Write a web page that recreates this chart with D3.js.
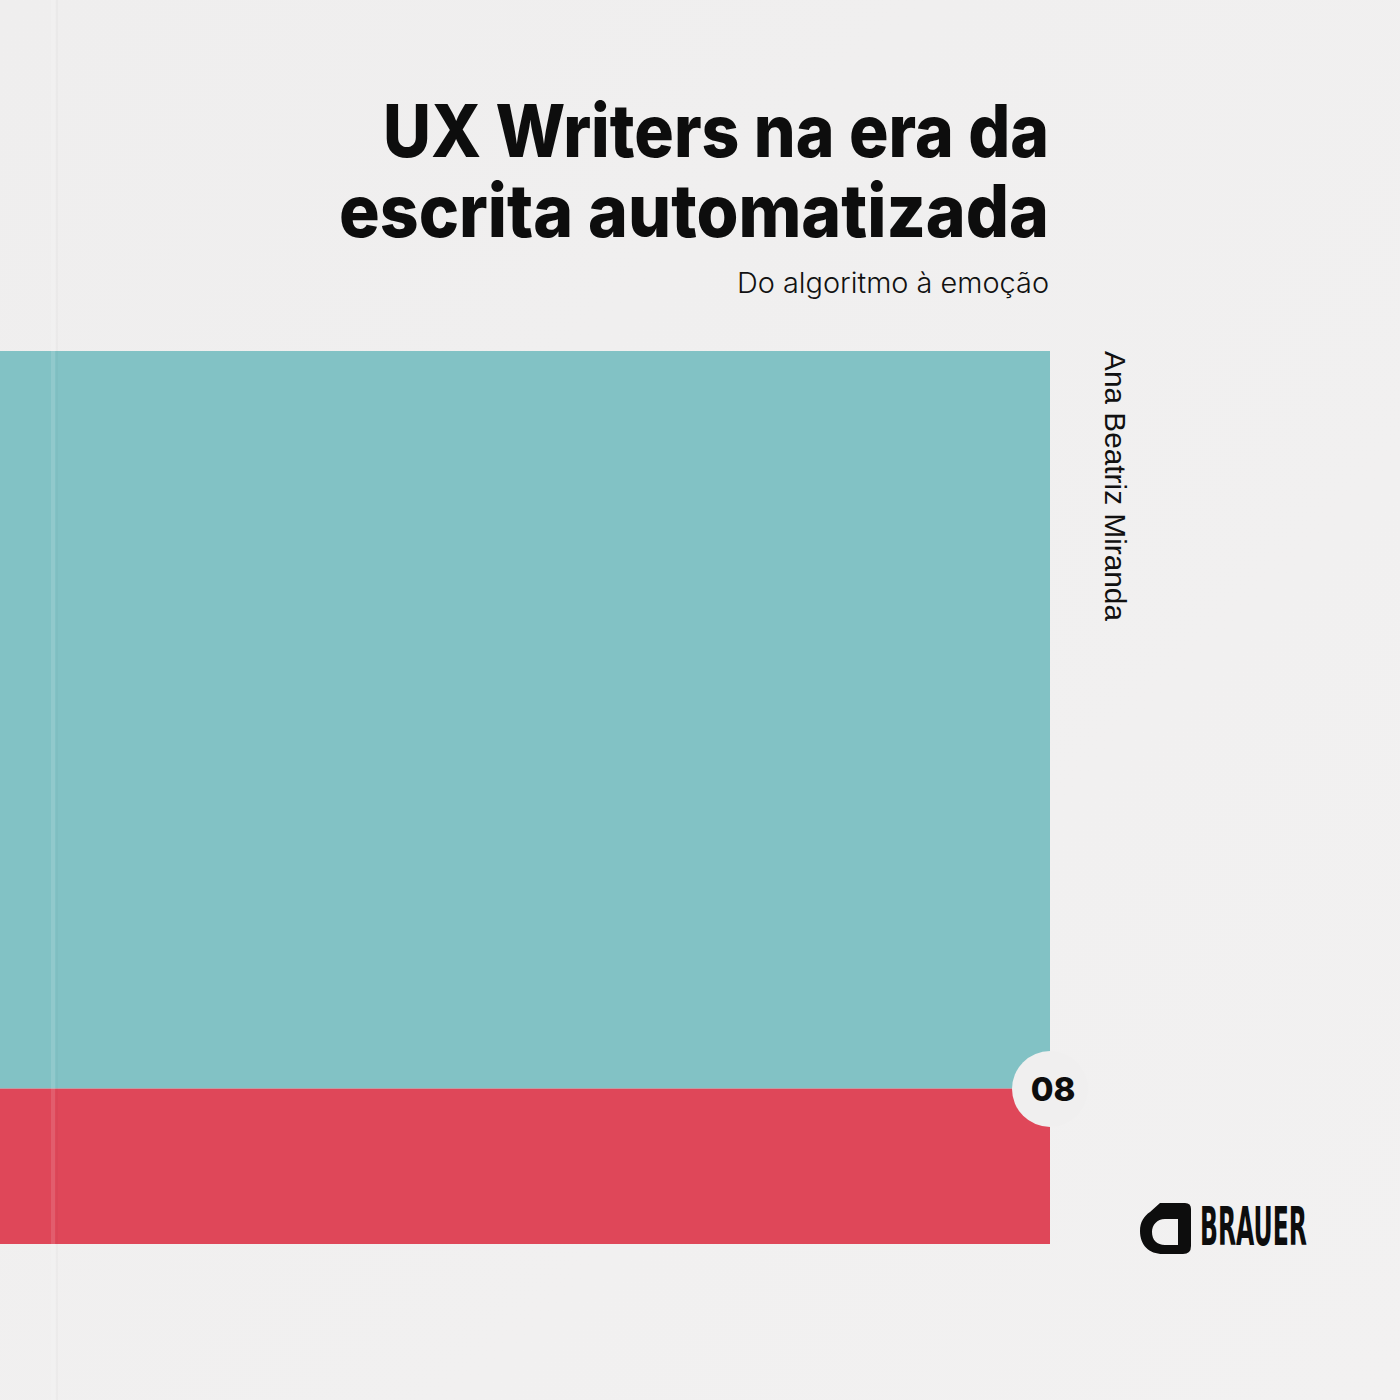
<!DOCTYPE html>
<html>
<head>
<meta charset="utf-8">
<script src="https://cdn.jsdelivr.net/npm/d3@7"></script>
<style>
  html, body { margin: 0; padding: 0; background: #f0efef; }
</style>
</head>
<body>
<div id="cover"></div>
<script>
// cover content
const titleLines = ["UX Writers na era da", "escrita automatizada"];
const subtitle = "Do algoritmo à emoção";
const author = "Ana Beatriz Miranda";
const volume = "08";
const publisher = "BRAUER";

// colour blocks, share of the coloured band (%)
const blocks = ["azul", "vermelho"];
const blockShares = [82.6, 17.4];
const blockColors = ["#82c2c5", "#df4759"];

const width = 1400, height = 1400;

const svg = d3.select("#cover")
    .append("svg")
    .attr("width", width)
    .attr("height", height);

const defs = svg.append("defs");
const bg = defs.append("linearGradient").attr("id", "bg")
    .attr("x1", 0).attr("y1", 0).attr("x2", 1).attr("y2", 1);
bg.append("stop").attr("offset", "0%").attr("stop-color", "#efeeee");
bg.append("stop").attr("offset", "100%").attr("stop-color", "#f2f1f1");

svg.append("rect")
    .attr("width", width).attr("height", height)
    .attr("fill", "url(#bg)");

// stacked band
const stack = [];
let acc = 0;
blocks.forEach((b, i) => {
    stack.push({name: b, y0: acc, y1: acc + blockShares[i], color: blockColors[i]});
    acc += blockShares[i];
});

const y = d3.scaleLinear()
    .domain([0, d3.sum(blockShares)])
    .range([351, 1244]);

const x = d3.scaleLinear()
    .domain([0, 1])
    .range([0, 1050]);

svg.append("g")
    .selectAll("rect")
    .data(stack)
    .join("rect")
    .attr("x", x(0))
    .attr("width", x(1) - x(0))
    .attr("y", d => y(d.y0))
    .attr("height", d => y(d.y1) - y(d.y0))
    .attr("fill", d => d.color);

// spine crease
svg.append("rect")
    .attr("x", 51).attr("y", 0)
    .attr("width", 4).attr("height", height)
    .attr("fill", "#ffffff").attr("opacity", 0.12);
svg.append("rect")
    .attr("x", 56).attr("y", 0)
    .attr("width", 2).attr("height", height)
    .attr("fill", "#000000").attr("opacity", 0.02);

// title
const title = svg.append("g")
    .attr("font-family", "Inter, 'Noto Sans', sans-serif")
    .attr("font-weight", 800)
    .attr("fill", "#0d0d0d")
    .attr("text-anchor", "end");

const titleWidths = [666, 710];
title.selectAll("text")
    .data(titleLines)
    .join("text")
    .attr("x", 1049)
    .attr("y", (d, i) => 157 + i * 80)
    .attr("font-size", 73)
    .attr("textLength", (d, i) => titleWidths[i])
    .attr("lengthAdjust", "spacingAndGlyphs")
    .text(d => d);

svg.append("text")
    .attr("x", 1049)
    .attr("y", 293)
    .attr("text-anchor", "end")
    .attr("font-family", "Inter, 'Noto Sans', sans-serif")
    .attr("font-weight", 300)
    .attr("font-size", 28)
    .attr("textLength", 312)
    .attr("lengthAdjust", "spacingAndGlyphs")
    .attr("fill", "#111")
    .text(subtitle);

// author, vertical
svg.append("text")
    .attr("transform", "translate(1105,351) rotate(90)")
    .attr("font-family", "'Liberation Sans', Arial, sans-serif")
    .attr("font-size", 30)
    .attr("textLength", 270)
    .attr("lengthAdjust", "spacingAndGlyphs")
    .attr("fill", "#111")
    .text(author);

// volume badge
svg.append("circle")
    .attr("cx", 1050).attr("cy", 1089)
    .attr("r", 38)
    .attr("fill", "#f0efef");

svg.append("text")
    .attr("x", 1053).attr("y", 1101)
    .attr("text-anchor", "middle")
    .attr("font-family", "Inter, sans-serif")
    .attr("font-weight", 800)
    .attr("font-size", 33)
    .attr("fill", "#0d0d0d")
    .text(volume);

// publisher logo
svg.append("path")
    .attr("fill", "#0d0d0d")
    .attr("fill-rule", "evenodd")
    .attr("d", "M1160,1203 L1185,1203 Q1191,1203 1191,1209 L1191,1246 Q1191,1254 1183,1254 " +
        "L1163,1254 C1149,1254 1140,1245 1140,1231 C1140,1222 1144,1216 1150,1212 Z " +
        "M1178,1219 L1165,1219 C1157,1219 1152,1225 1152,1232 C1152,1240 1157,1245 1165,1245 L1178,1245 Z");

const pub = svg.append("text")
    .attr("font-family", "'Liberation Sans Narrow', 'DejaVu Sans Condensed', sans-serif")
    .attr("font-weight", 700)
    .attr("font-size", 53)
    .attr("fill", "#0d0d0d")
    .text(publisher);
// squeeze horizontally to the logo's width
const pubW = pub.node().getComputedTextLength();
pub.attr("transform", `translate(1200,1245) scale(${107 / pubW},1)`);
</script>
</body>
</html>
